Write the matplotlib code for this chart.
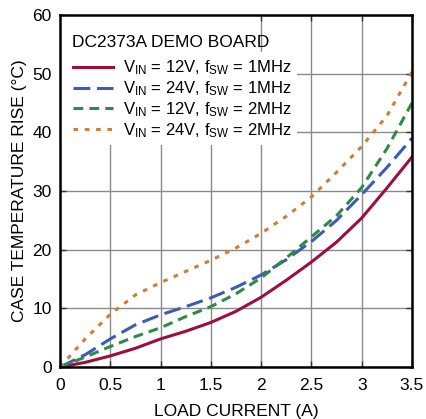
import matplotlib
matplotlib.use('Agg')
import matplotlib.pyplot as plt
from matplotlib.patches import Rectangle

# lecture des courbes sur le graphique
current = [0, 0.25, 0.5, 0.75, 1.0, 1.25, 1.5, 1.75, 2.0, 2.25, 2.5, 2.75, 3.0, 3.25, 3.5]
rise_12v_1mhz = [0, 0.8, 1.9, 3.2, 4.8, 6.1, 7.6, 9.5, 11.9, 14.8, 17.9, 21.3, 25.4, 30.5, 35.8]
rise_24v_1mhz = [0, 2.1, 4.8, 7.2, 8.9, 10.3, 11.8, 13.6, 15.7, 18.3, 21.4, 25.0, 29.4, 34.0, 39.0]
rise_12v_2mhz = [0, 1.7, 3.5, 5.2, 6.7, 8.6, 10.3, 12.5, 15.2, 18.6, 22.2, 25.8, 30.6, 37.2, 45.0]
rise_24v_2mhz = [0, 4.8, 9.0, 12.3, 14.4, 16.3, 18.2, 20.3, 22.8, 25.7, 29.0, 33.2, 37.6, 42.8, 50.3]

labels = [r'V$_{\mathregular{IN}}$ = 12V, f$_{\mathregular{SW}}$ = 1MHz',
          r'V$_{\mathregular{IN}}$ = 24V, f$_{\mathregular{SW}}$ = 1MHz',
          r'V$_{\mathregular{IN}}$ = 12V, f$_{\mathregular{SW}}$ = 2MHz',
          r'V$_{\mathregular{IN}}$ = 24V, f$_{\mathregular{SW}}$ = 2MHz']
xticks = [0, 0.5, 1, 1.5, 2, 2.5, 3, 3.5]
xticklabels = ['0', '0.5', '1', '1.5', '2', '2.5', '3', '3.5']
yticks = [0, 10, 20, 30, 40, 50, 60]

plt.rcParams['font.family'] = ['Liberation Sans', 'DejaVu Sans']
plt.rcParams['mathtext.fontset'] = 'custom'
plt.rcParams['mathtext.rm'] = 'Liberation Sans'
plt.rcParams['mathtext.it'] = 'Liberation Sans'
FS = 12.5

fig = plt.figure(figsize=(4.26, 4.19), dpi=100)
ax = fig.add_axes([0.141, 0.124, 0.826, 0.840])

ax.plot(current, rise_12v_1mhz, color='#9c0f3c', lw=2.2, label=labels[0], zorder=4)
ax.plot(current, rise_24v_1mhz, color='#3b5cb0', lw=2.2, dashes=(5.5, 2.2), label=labels[1], zorder=4)
ax.plot(current, rise_12v_2mhz, color='#2f8a47', lw=2.2, dashes=(3.2, 2.0), label=labels[2], zorder=4)
ax.plot(current, rise_24v_2mhz, color='#c8803a', lw=2.2, dashes=(1.5, 2.2), label=labels[3], zorder=4)

ax.set_xlim(0, 3.5)
ax.set_ylim(0, 60)
ax.set_xticks(xticks)
ax.set_xticklabels(xticklabels)
ax.set_yticks(yticks)
ax.grid(True, color='#8a8a8a', lw=1.0, zorder=0)
ax.set_axisbelow(True)
ax.tick_params(direction='in', length=4, width=1, top=True, right=True,
               labelsize=FS, color='#333333')
ax.tick_params(axis='x', pad=8)
ax.tick_params(axis='y', pad=6)
for s in ax.spines.values():
    s.set_linewidth(1.8)
    s.set_zorder(6)

ax.set_xlabel('LOAD CURRENT (A)', fontsize=FS, labelpad=8)
ax.set_ylabel('CASE TEMPERATURE RISE (°C)', fontsize=FS, labelpad=4)

# fond blanc derriere la legende (cache la grille)
ax.add_patch(Rectangle((0, 0.895), 0.5625, 0.105, transform=ax.transAxes,
                       facecolor='white', edgecolor='none', zorder=1))
ax.add_patch(Rectangle((0, 0.631), 0.673, 0.265, transform=ax.transAxes,
                       facecolor='white', edgecolor='none', zorder=1))

ax.text(0.034, 0.909, 'DC2373A DEMO BOARD', transform=ax.transAxes,
        fontsize=FS, ha='left', va='baseline', zorder=5)
leg = ax.legend(loc='upper left', bbox_to_anchor=(0.036, 0.876),
                fontsize=12, frameon=False,
                borderaxespad=0.0, borderpad=0.0, handlelength=2.4, handletextpad=0.6,
                labelspacing=0.12)
leg.set_zorder(5)

fig.savefig('out.png', dpi=100)
